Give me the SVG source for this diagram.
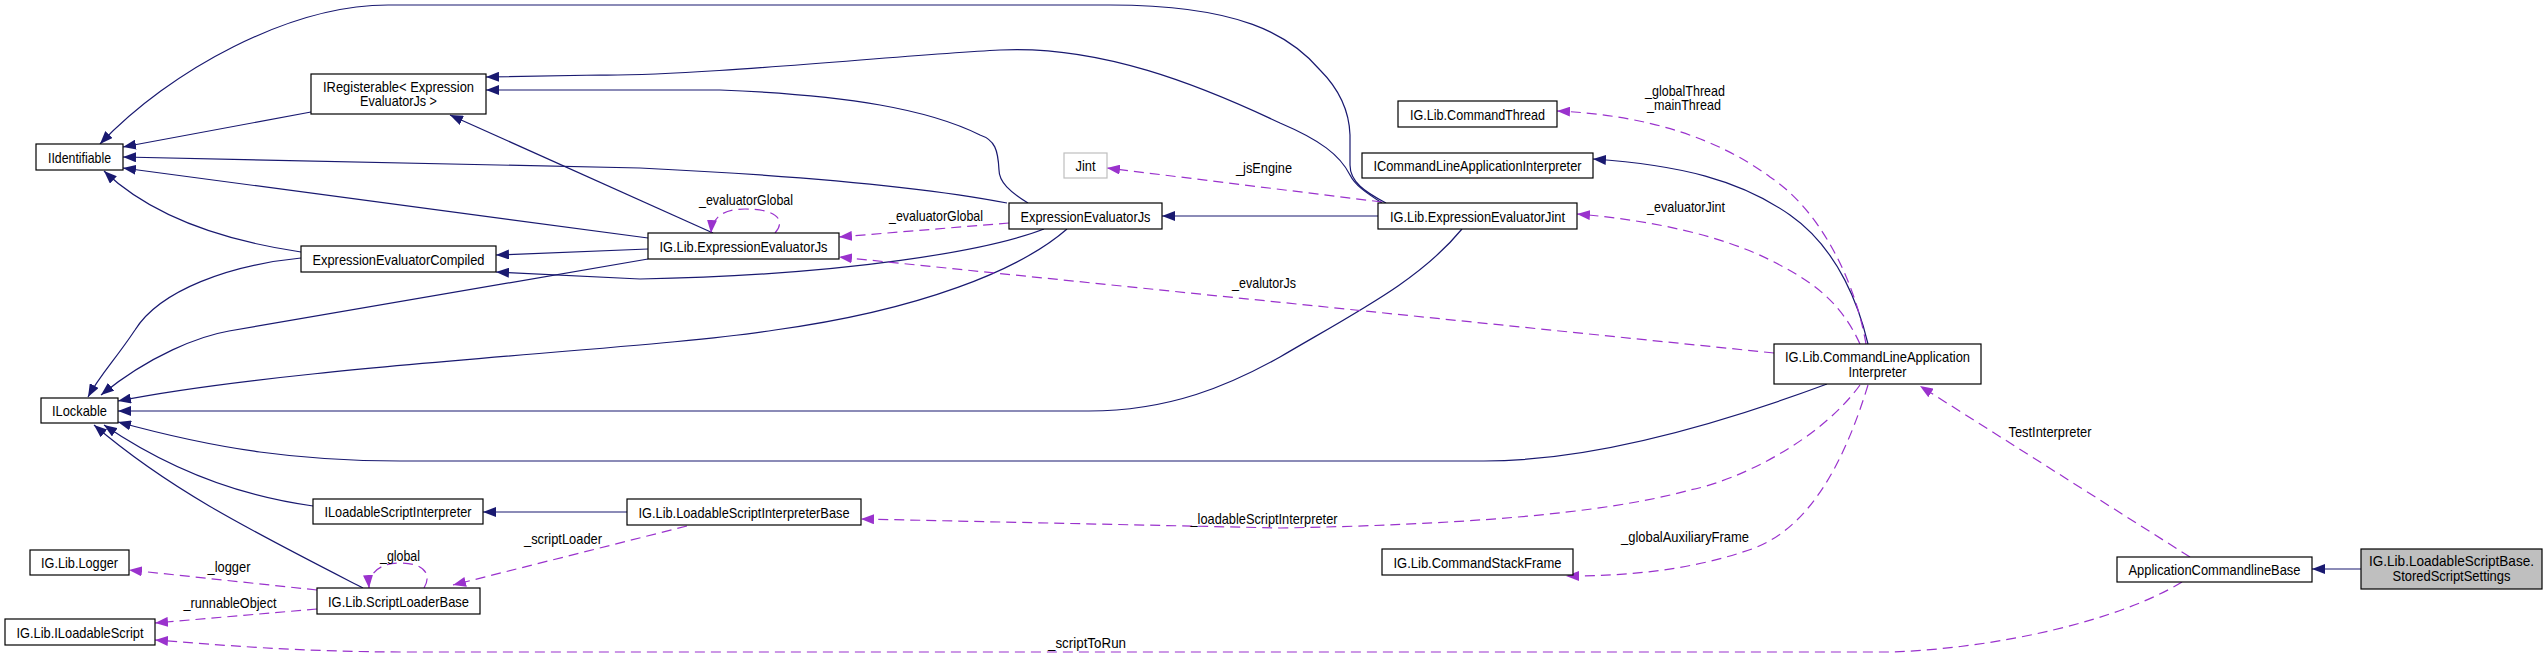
<svg xmlns="http://www.w3.org/2000/svg" width="2547" height="657" viewBox="0 0 2547 657">
<style>
  .bg { fill: #ffffff; }
  .node rect { fill: #ffffff; stroke: #000000; stroke-width: 1.2; }
  .node.gray rect { stroke: #bfbfbf; }
  .node.sel rect { fill: #bfbfbf; }
  text { font-family: "Liberation Sans", Arial, sans-serif; font-size: 15px; fill: #000000; }
  .node text, .lbl { text-anchor: middle; }
  .inh { fill: none; stroke: #191970; stroke-width: 1.2; marker-end: url(#ab); }
  .use { fill: none; stroke: #9a32cd; stroke-width: 1.2; stroke-dasharray: 10,6; marker-end: url(#ap); }
</style>
<defs>
  <marker id="ab" viewBox="0 0 13 10" refX="13" refY="5" markerWidth="13" markerHeight="10" markerUnits="userSpaceOnUse" orient="auto">
    <path d="M0,0 L13,5 L0,10 Z" fill="#191970" stroke="none"/>
  </marker>
  <marker id="ap" viewBox="0 0 13 10" refX="13" refY="5" markerWidth="13" markerHeight="10" markerUnits="userSpaceOnUse" orient="auto">
    <path d="M0,0 L13,5 L0,10 Z" fill="#9a32cd" stroke="none"/>
  </marker>
</defs>
<rect class="bg" x="0" y="0" width="2547" height="657"/>

<g id="connectors">
  <!-- inheritance -->
  <path class="inh" d="M311,112 L123,147"/>
  <path class="inh" d="M1386,203 C1365,192 1350,182 1350,165 L1350,135 C1349,105 1335,85 1320,70 C1290,35 1240,5 1110,5 L388,5 C290,5 170,70 100,144"/>
  <path class="inh" d="M1007,203 C950,192 850,178 640,168 L123,157"/>
  <path class="inh" d="M648,238 L123,168"/>
  <path class="inh" d="M301,252 C220,240 150,215 104,171"/>
  <path class="inh" d="M1382,203 C1365,192 1355,185 1350,175 C1340,155 1320,140 1280,123 C1200,85 1100,45 1000,50 C900,55 700,76 600,75 L486,77"/>
  <path class="inh" d="M1028,203 C1010,192 999,182 999,170 C998,150 995,140 980,135 C930,110 850,95 720,90 L486,90"/>
  <path class="inh" d="M713,233 L450,115"/>
  <path class="inh" d="M648,249 L496,255"/>
  <path class="inh" d="M1044,229 C990,250 850,275 640,279 L496,272"/>
  <path class="inh" d="M648,259 L229,331 C200,336 150,355 101,395"/>
  <path class="inh" d="M301,258 C230,265 160,290 135,330 C115,360 100,375 88,397"/>
  <path class="inh" d="M1067,229 C1020,270 920,310 775,330 C650,350 300,365 118,401"/>
  <path class="inh" d="M1462,229 C1420,280 1360,310 1280,357 C1230,385 1170,411 1089,411 L118,411"/>
  <path class="inh" d="M1827,384 C1730,420 1600,461 1484,461 L400,461 C300,461 220,450 118,422"/>
  <path class="inh" d="M313,506 C240,496 170,470 104,425"/>
  <path class="inh" d="M363,588 C250,530 170,490 94,425"/>
  <path class="inh" d="M627,512 L483,512"/>
  <path class="inh" d="M1378,216 L1162,216"/>
  <path class="inh" d="M1868,344 C1860,310 1840,250 1790,215 C1740,180 1680,165 1593,159"/>
  <path class="inh" d="M2361,569 L2312,569"/>
  <!-- usage -->
  <path class="use" d="M775,233 C785,222 780,209 745,209 C720,209 712,220 711,233"/>
  <path class="use" d="M1009,223 L839,237"/>
  <path class="use" d="M1382,202 L1107,168"/>
  <path class="use" d="M1774,353 L839,257"/>
  <path class="use" d="M1866,344 C1855,280 1820,210 1770,177 C1720,140 1650,115 1557,111"/>
  <path class="use" d="M1860,344 C1840,300 1810,280 1770,260 C1720,235 1650,220 1577,214"/>
  <path class="use" d="M1860,385 C1820,440 1740,480 1690,490 C1600,515 1450,525 1280,528 L861,519"/>
  <path class="use" d="M1868,385 C1845,460 1810,530 1749,550 C1690,570 1630,576 1566,576"/>
  <path class="use" d="M2190,557 L1920,386"/>
  <path class="use" d="M2182,582 C2120,620 2000,648 1892,652 L408,652 C300,652 220,645 155,640"/>
  <path class="use" d="M317,590 L129,570"/>
  <path class="use" d="M317,609 L155,623"/>
  <path class="use" d="M424,588 C432,575 425,563 400,563 C378,563 368,575 369,588"/>
  <path class="use" d="M687,526 L453,585"/>
  <!-- labels -->
  <text class="lbl" x="746" y="205" textLength="94" lengthAdjust="spacingAndGlyphs">_evaluatorGlobal</text>
  <text class="lbl" x="936" y="221" textLength="94" lengthAdjust="spacingAndGlyphs">_evaluatorGlobal</text>
  <text class="lbl" x="1264" y="173" textLength="56" lengthAdjust="spacingAndGlyphs">_jsEngine</text>
  <text class="lbl" x="1264" y="288" textLength="64" lengthAdjust="spacingAndGlyphs">_evalutorJs</text>
  <text class="lbl" x="1685" y="96" textLength="80" lengthAdjust="spacingAndGlyphs">_globalThread</text>
  <text class="lbl" x="1684" y="110" textLength="74" lengthAdjust="spacingAndGlyphs">_mainThread</text>
  <text class="lbl" x="1686" y="212" textLength="78" lengthAdjust="spacingAndGlyphs">_evaluatorJint</text>
  <text class="lbl" x="1264" y="524" textLength="147" lengthAdjust="spacingAndGlyphs">_loadableScriptInterpreter</text>
  <text class="lbl" x="1685" y="542" textLength="128" lengthAdjust="spacingAndGlyphs">_globalAuxiliaryFrame</text>
  <text class="lbl" x="2050" y="437" textLength="83" lengthAdjust="spacingAndGlyphs">TestInterpreter</text>
  <text class="lbl" x="1087" y="648" textLength="78" lengthAdjust="spacingAndGlyphs">_scriptToRun</text>
  <text class="lbl" x="229" y="572" textLength="43" lengthAdjust="spacingAndGlyphs">_logger</text>
  <text class="lbl" x="230" y="608" textLength="93" lengthAdjust="spacingAndGlyphs">_runnableObject</text>
  <text class="lbl" x="400" y="561" textLength="40" lengthAdjust="spacingAndGlyphs">_global</text>
  <text class="lbl" x="563" y="544" textLength="78" lengthAdjust="spacingAndGlyphs">_scriptLoader</text>
</g>

<g id="n_IIdentifiable" class="node"><rect x="36" y="144" width="87" height="26"/><text x="79.5" y="162.5" textLength="63" lengthAdjust="spacingAndGlyphs">IIdentifiable</text></g>
<g id="n_IRegisterable" class="node"><rect x="311" y="74" width="175" height="40"/><text x="398.5" y="92" textLength="151" lengthAdjust="spacingAndGlyphs">IRegisterable&lt; Expression</text><text x="398.5" y="106" textLength="77" lengthAdjust="spacingAndGlyphs">EvaluatorJs &gt;</text></g>
<g id="n_ExpressionEvaluatorCompiled" class="node"><rect x="301" y="246" width="195" height="26"/><text x="398.5" y="264.5" textLength="172" lengthAdjust="spacingAndGlyphs">ExpressionEvaluatorCompiled</text></g>
<g id="n_ILockable" class="node"><rect x="41" y="398" width="77" height="25"/><text x="79.5" y="416" textLength="55" lengthAdjust="spacingAndGlyphs">ILockable</text></g>
<g id="n_ILoadableScriptInterpreter" class="node"><rect x="313" y="499" width="170" height="25"/><text x="398" y="517" textLength="147" lengthAdjust="spacingAndGlyphs">ILoadableScriptInterpreter</text></g>
<g id="n_Logger" class="node"><rect x="30" y="550" width="99" height="25"/><text x="79.5" y="568" textLength="77" lengthAdjust="spacingAndGlyphs">IG.Lib.Logger</text></g>
<g id="n_ScriptLoaderBase" class="node"><rect x="317" y="588" width="163" height="26"/><text x="398.5" y="606.5" textLength="141" lengthAdjust="spacingAndGlyphs">IG.Lib.ScriptLoaderBase</text></g>
<g id="n_ILoadableScript" class="node"><rect x="5" y="619" width="150" height="26"/><text x="80" y="637.5" textLength="127" lengthAdjust="spacingAndGlyphs">IG.Lib.ILoadableScript</text></g>
<g id="n_LoadableScriptInterpreterBase" class="node"><rect x="627" y="499" width="234" height="26"/><text x="744" y="517.5" textLength="211" lengthAdjust="spacingAndGlyphs">IG.Lib.LoadableScriptInterpreterBase</text></g>
<g id="n_Jint" class="node gray"><rect x="1064" y="153" width="43" height="25"/><text x="1085.5" y="171" textLength="20" lengthAdjust="spacingAndGlyphs">Jint</text></g>
<g id="n_ExpressionEvaluatorJs" class="node"><rect x="1009" y="203" width="153" height="26"/><text x="1085.5" y="221.5" textLength="130" lengthAdjust="spacingAndGlyphs">ExpressionEvaluatorJs</text></g>
<g id="n_IGExpressionEvaluatorJs" class="node"><rect x="648" y="233" width="191" height="26"/><text x="743.5" y="251.5" textLength="168" lengthAdjust="spacingAndGlyphs">IG.Lib.ExpressionEvaluatorJs</text></g>
<g id="n_CommandThread" class="node"><rect x="1398" y="101" width="159" height="26"/><text x="1477.5" y="119.5" textLength="135" lengthAdjust="spacingAndGlyphs">IG.Lib.CommandThread</text></g>
<g id="n_ICommandLineApplicationInterpreter" class="node"><rect x="1362" y="153" width="231" height="25"/><text x="1477.5" y="171" textLength="208" lengthAdjust="spacingAndGlyphs">ICommandLineApplicationInterpreter</text></g>
<g id="n_ExpressionEvaluatorJint" class="node"><rect x="1378" y="203" width="199" height="26"/><text x="1477.5" y="221.5" textLength="175" lengthAdjust="spacingAndGlyphs">IG.Lib.ExpressionEvaluatorJint</text></g>
<g id="n_CommandLineApplicationInterpreter" class="node"><rect x="1774" y="344" width="207" height="40"/><text x="1877.5" y="361.5" textLength="185" lengthAdjust="spacingAndGlyphs">IG.Lib.CommandLineApplication</text><text x="1877.5" y="376.5" textLength="58" lengthAdjust="spacingAndGlyphs">Interpreter</text></g>
<g id="n_CommandStackFrame" class="node"><rect x="1382" y="549" width="191" height="26"/><text x="1477.5" y="567.5" textLength="168" lengthAdjust="spacingAndGlyphs">IG.Lib.CommandStackFrame</text></g>
<g id="n_ApplicationCommandlineBase" class="node"><rect x="2117" y="557" width="195" height="25"/><text x="2214.5" y="575" textLength="172" lengthAdjust="spacingAndGlyphs">ApplicationCommandlineBase</text></g>
<g id="n_StoredScriptSettings" class="node sel"><rect x="2361" y="549" width="181" height="40"/><text x="2451.5" y="565.5" textLength="165" lengthAdjust="spacingAndGlyphs">IG.Lib.LoadableScriptBase.</text><text x="2451.5" y="580.5" textLength="118" lengthAdjust="spacingAndGlyphs">StoredScriptSettings</text></g>
</svg>
